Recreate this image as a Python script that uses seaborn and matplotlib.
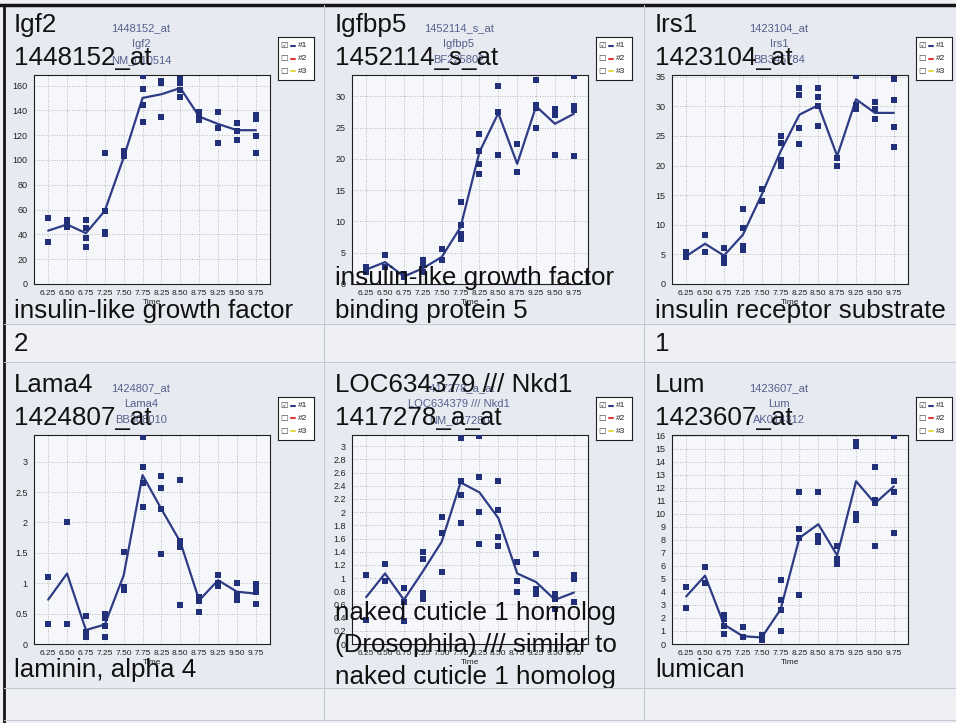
import matplotlib
matplotlib.use("Agg")
import matplotlib.pyplot as plt
from matplotlib.lines import Line2D
from matplotlib.patches import Rectangle
import numpy as np
import pandas as pd
import seaborn as sns

# --- data ----------------------------------------------------------------
times = ["6.25", "6.50", "6.75", "7.25", "7.50", "7.75",
         "8.25", "8.50", "8.75", "9.25", "9.50", "9.75"]

igf2_reps = [[53, 34], [52, 48, 46], [52, 45.5, 37, 30], [106, 59, 42, 40],
             [107, 103], [168, 157, 144, 131], [164, 162, 135],
             [165, 162, 156.5, 151], [139, 136.5, 132.5], [139, 126, 114],
             [130, 123, 116], [136, 133, 119, 106]]
igf2_mean = [43, 48, 41, 59, 102, 150, 153, 158, 135, 129, 124, 124]

igfbp5_reps = [[2.7, 1.9], [4.6, 2.7], [1.6, 1.1], [3.8, 3.0, 1.9], [5.6, 3.9],
               [13.1, 9.4, 8.0, 7.2], [24, 21.3, 19.1, 17.5], [31.6, 27.5, 20.6],
               [22.3, 17.9], [32.6, 28.6, 28.2, 24.9], [27.9, 27.5, 27, 20.6],
               [33.2, 28.4, 27.8, 20.4]]
igfbp5_mean = [2.3, 3.5, 1.2, 2.5, 4.3, 9.1, 21.1, 27.3, 19.2, 28.4, 25.6, 27.2]

irs1_reps = [[5.4, 4.6], [8.3, 5.4], [6.1, 4.4, 3.6], [12.6, 9.4, 6.4, 5.7],
             [16, 14.1], [25, 23.8, 21, 19.9], [33.1, 32, 26.4, 23.7],
             [33.1, 31.6, 30, 26.7], [21.3, 19.9], [35.2, 30.2, 29.5],
             [30.7, 29.6, 27.8], [34.7, 31, 26.5, 23.1]]
irs1_mean = [4.7, 6.8, 4.8, 8.3, 15.1, 22.4, 28.6, 30.2, 21.6, 31.2, 28.9, 28.9]

lama4_reps = [[1.1, 0.33], [2.01, 0.33], [0.46, 0.19, 0.12], [0.5, 0.42, 0.29, 0.12],
              [1.52, 0.94, 0.89], [3.41, 2.92, 2.65, 2.26], [2.76, 2.56, 2.22, 1.48],
              [2.7, 1.69, 1.59, 0.64], [0.77, 0.71, 0.52], [1.14, 1.0, 0.95],
              [1.01, 0.82, 0.72], [0.99, 0.92, 0.85, 0.66]]
lama4_mean = [0.73, 1.16, 0.23, 0.32, 1.13, 2.78, 2.22, 1.68, 0.72, 1.05, 0.86, 0.83]

nkd1_reps = [[1.04, 0.37], [1.21, 0.95], [0.85, 0.64, 0.35], [1.4, 1.29, 0.78, 0.68],
             [1.92, 1.68, 1.09], [3.13, 2.47, 2.26, 1.83], [3.15, 2.53, 2.0, 1.51],
             [2.47, 2.03, 1.63, 1.49], [1.24, 0.95, 0.79], [1.36, 0.84, 0.76],
             [0.76, 0.68, 0.53], [1.05, 0.99, 0.64]]
nkd1_mean = [0.71, 1.07, 0.67, 1.1, 1.55, 2.45, 2.3, 1.91, 1.07, 0.94, 0.67, 0.78]

lum_reps = [[4.4, 2.8], [5.9, 4.7], [2.2, 1.9, 1.4, 0.8], [1.3, 0.5], [0.7, 0.3],
            [4.9, 3.4, 2.6, 1.0], [11.7, 8.85, 8.15, 3.8], [11.7, 8.3, 7.8],
            [7.55, 6.5, 6.15], [15.5, 15.2, 9.95, 9.5], [13.6, 11.05, 10.85, 7.5],
            [16, 12.5, 11.7, 8.5]]
lum_mean = [3.65, 5.25, 1.5, 0.6, 0.5, 2.65, 8.15, 9.2, 6.8, 12.5, 10.8, 12.1]

small_titles = [["1448152_at", "Igf2", "NM_010514"],
                ["1452114_s_at", "Igfbp5", "BF225802"],
                ["1423104_at", "Irs1", "BB345784"],
                ["1424807_at", "Lama4", "BB308010"],
                ["1417278_a_at", "LOC634379 /// Nkd1", "NM_027280"],
                ["1423607_at", "Lum", "AK014312"]]

top_labels = [["Igf2", "1448152_at"], ["Igfbp5", "1452114_s_at"],
              ["Irs1", "1423104_at"], ["Lama4", "1424807_at"],
              ["LOC634379 /// Nkd1", "1417278_a_at"], ["Lum", "1423607_at"]]

bottom_labels = [["insulin-like growth factor"],
                 ["insulin-like growth factor", "binding protein 5"],
                 ["insulin receptor substrate"],
                 ["laminin, alpha 4"],
                 ["naked cuticle 1 homolog", "(Drosophila) /// similar to",
                  "naked cuticle 1 homolog"],
                 ["lumican"]]

# --- layout helpers -------------------------------------------------------
W, H = 956, 723
sns.set_style("white")
plt.rcParams['font.family'] = ['Liberation Sans', 'DejaVu Sans']
small_font = ['Liberation Sans', 'DejaVu Sans']

fig = plt.figure(figsize=(W / 100, H / 100), dpi=100)
fig.patch.set_facecolor('#eef0f4')


def fx(x):
    return x / W


def fy(y):
    return 1 - y / H


def rect(x0, y0, x1, y1, color):
    fig.add_artist(Rectangle((fx(x0), fy(y1)), fx(x1) - fx(x0), fy(y0) - fy(y1),
                             transform=fig.transFigure, facecolor=color,
                             edgecolor='none', zorder=-2))


def seg(x0, y0, x1, y1, color, lw):
    fig.add_artist(Line2D([fx(x0), fx(x1)], [fy(y0), fy(y1)],
                          transform=fig.transFigure, color=color, lw=lw, zorder=6))


navy = '#22307a'
line_c = '#2e3c86'
cell_bg = '#e7eaf1'
col_x = [0, 318, 638]
row_y = [0, 360]

# cell backgrounds
for oy, (y0, y1) in zip(row_y, [(7, 323), (364, 687)]):
    for x0, x1 in [(5, 323), (326, 643), (646, 956)]:
        rect(x0, y0, x1, y1, cell_bg)


def draw_panel(ox, oy, reps, mean, ymax, ystep, titles):
    ax = fig.add_axes([fx(ox + 34), fy(oy + 284), 236 / W, 209 / H])
    ax.set_facecolor('#f6f7fa')
    pos = np.arange(len(times))
    df = pd.DataFrame({'pos': [p for p, r in zip(pos, reps) for _ in r],
                       'val': [v for r in reps for v in r]})
    ax.grid(True, color='#a4a4a4', lw=0.6, ls=(0, (1, 2)))
    ax.set_axisbelow(True)
    sns.lineplot(x=pos, y=mean, ax=ax, color=line_c, lw=1.6, zorder=3)
    sns.scatterplot(data=df, x='pos', y='val', ax=ax, marker='s', s=18,
                    color=navy, linewidth=0, zorder=4)
    ax.set_xlim(-0.75, 11.75)
    ax.set_ylim(0, ymax)
    ax.set_xticks(pos)
    ax.set_xticklabels(times, fontsize=6, family=small_font)
    yt = np.round(np.arange(0, ymax + 1e-9, ystep), 2)
    ax.set_yticks(yt)
    ax.set_yticklabels([f"{v:g}" for v in yt], fontsize=6.5, family=small_font)
    ax.tick_params(length=2.5, width=0.6, pad=2, colors='#222222')
    ax.set_xlabel("Time", fontsize=6, family=small_font, labelpad=1, color='#222222')
    ax.set_ylabel("")
    for s in ax.spines.values():
        s.set_color('#202020')
        s.set_linewidth(0.8)
    # window title lines
    for i, t in enumerate(titles):
        fig.text(fx(ox + 141), fy(oy + 28 + 16 * i), t, ha='center', va='center',
                 fontsize=8, family=small_font, color='#55608c')
    # legend box
    lax = fig.add_axes([fx(ox + 278), fy(oy + 80), 36 / W, 43 / H])
    lax.set_xlim(0, 1)
    lax.set_ylim(0, 1)
    lax.set_xticks([])
    lax.set_yticks([])
    lax.set_facecolor('white')
    for s in lax.spines.values():
        s.set_color('#202020')
        s.set_linewidth(0.8)
    for i, c in enumerate([line_c, '#e03a3a', '#e6d84c']):
        y = 0.8 - 0.3 * i
        lax.text(0.06, y, '\u2611' if i == 0 else '\u2610', fontsize=6,
                 family='DejaVu Sans', va='center', color='#444444')
        lax.plot([0.36, 0.48], [y, y], color=c, lw=1.5)
        lax.text(0.55, y, f"#{i + 1}", fontsize=6, family=small_font,
                 va='center', color='#222222')


panels = [(col_x[0], row_y[0], igf2_reps, igf2_mean, 168.5, 20),
          (col_x[1], row_y[0], igfbp5_reps, igfbp5_mean, 33.4, 5),
          (col_x[2], row_y[0], irs1_reps, irs1_mean, 35.3, 5),
          (col_x[0], row_y[1], lama4_reps, lama4_mean, 3.44, 0.5),
          (col_x[1], row_y[1], nkd1_reps, nkd1_mean, 3.17, 0.2),
          (col_x[2], row_y[1], lum_reps, lum_mean, 16.05, 1)]

for k, (ox, oy, reps, mean, ymax, step) in enumerate(panels):
    draw_panel(ox, oy, reps, mean, ymax, step, small_titles[k])

# big overlay text of the table
text_x = [14, 335, 655]
big = dict(fontsize=18.7, color='#111111', va='baseline', ha='left')
bottom_base = [[318], [285, 318], [318], [677], [620, 652, 684], [677]]
for k in range(6):
    ox = text_x[k % 3]
    oy = row_y[k // 3]
    for i, t in enumerate(top_labels[k]):
        fig.text(fx(ox), fy(oy + 32 + 33 * i), t, **big)
    for t, yb in zip(bottom_labels[k], bottom_base[k]):
        fig.text(fx(ox), fy(yb), t, **big)
fig.text(fx(14), fy(351), "2", **big)
fig.text(fx(655), fy(351), "1", **big)

# table rules
seg(0, 5, W, 5, '#151515', 2.5)
seg(4, 5, 4, H, '#151515', 2)
for y in [324, 362, 688, 720]:
    seg(4, y, W, y, '#c4c8d0', 0.8)
for x in [324, 644]:
    seg(x, 5, x, 720, '#c4c8d0', 0.8)

fig.savefig("out.png", dpi=100, facecolor=fig.get_facecolor())
